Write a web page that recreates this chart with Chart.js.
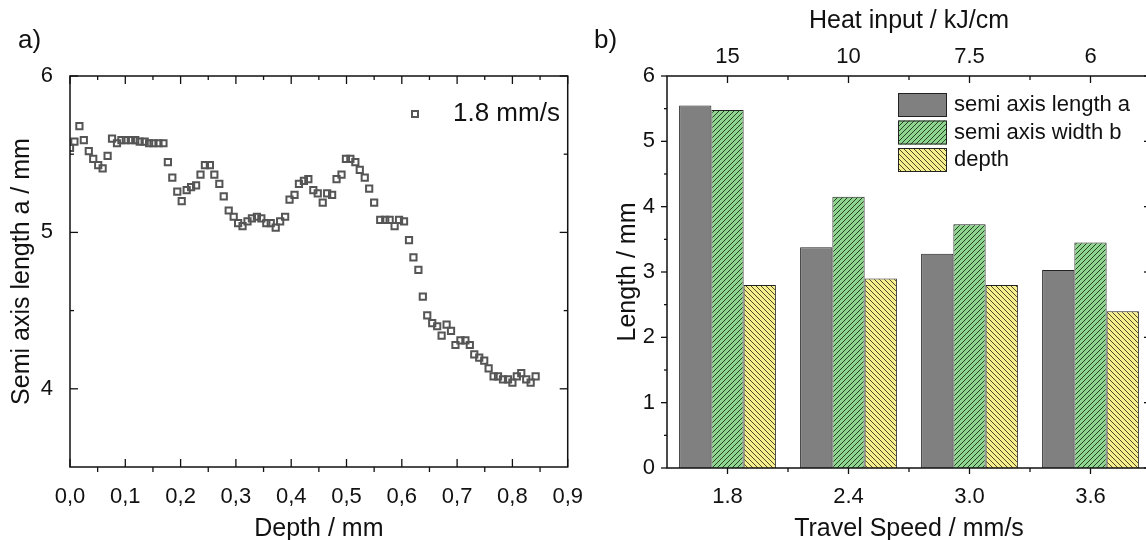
<!DOCTYPE html>
<html>
<head>
<meta charset="utf-8">
<script src="https://cdn.jsdelivr.net/npm/chart.js@4.4.0/dist/chart.umd.min.js"></script>
<style>
body { margin:0; background:#fff; overflow:hidden; width:1146px; height:540px; position:relative; font-family:"Liberation Sans", Arial, sans-serif; }
.wrap { position:absolute; top:0; height:560px; }
#wa { left:0; width:600px; }
#wb { left:590px; width:620px; }
.tag { position:absolute; font-size:26px; color:#111; top:24px; }
</style>
</head>
<body>
<div class="wrap" id="wa"><canvas id="ca" width="600" height="560"></canvas></div>
<div class="wrap" id="wb"><canvas id="cb" width="620" height="560"></canvas></div>
<div class="tag" style="left:18px">a)</div>
<div class="tag" style="left:594px">b)</div>
<script>
// a) semi axis length vs depth (1.8 mm/s)
var depth = [0.000,0.008,0.017,0.025,0.034,0.042,0.051,0.059,0.068,0.076,0.085,0.093,0.101,0.110,0.118,0.126,0.135,0.143,0.151,0.160,
  0.169,0.177,0.185,0.194,0.202,0.211,0.219,0.228,0.236,0.244,0.253,0.261,0.270,0.278,0.287,0.296,0.304,0.312,0.321,0.329,
  0.338,0.346,0.355,0.363,0.372,0.380,0.389,0.397,0.406,0.414,0.423,0.431,0.440,0.448,0.457,0.465,0.474,0.482,0.491,0.499,
  0.507,0.516,0.524,0.533,0.541,0.550,0.561,0.570,0.578,0.587,0.595,0.604,0.613,0.621,0.630,0.638,0.646,0.655,0.664,0.672,
  0.681,0.689,0.697,0.706,0.715,0.723,0.731,0.740,0.749,0.757,0.766,0.774,0.783,0.792,0.800,0.808,0.816,0.825,0.833,0.842];
var semiAxisA = [5.54,5.58,5.68,5.59,5.52,5.47,5.43,5.41,5.49,5.60,5.57,5.59,5.59,5.59,5.59,5.58,5.58,5.57,5.57,5.57,
  5.57,5.45,5.35,5.26,5.20,5.27,5.29,5.30,5.37,5.43,5.43,5.37,5.31,5.23,5.14,5.10,5.06,5.04,5.07,5.09,
  5.10,5.09,5.06,5.06,5.03,5.07,5.10,5.21,5.24,5.31,5.33,5.34,5.27,5.25,5.19,5.25,5.24,5.34,5.37,5.47,
  5.47,5.45,5.40,5.35,5.28,5.19,5.08,5.08,5.08,5.04,5.08,5.07,4.95,4.84,4.76,4.59,4.47,4.42,4.40,4.34,
  4.41,4.37,4.28,4.31,4.31,4.28,4.22,4.20,4.18,4.13,4.08,4.08,4.06,4.06,4.04,4.08,4.10,4.06,4.04,4.08];
var depthTicks = [0,0.1,0.2,0.3,0.4,0.5,0.6,0.7,0.8,0.9];
var depthMinor = [0.05,0.15,0.25,0.35,0.45,0.55,0.65,0.75,0.85];
var aTicks = [4,5,6];
var aMinor = [4.5,5.5];

// b) weld pool dimensions vs travel speed
var speeds = ['1.8','2.4','3.0','3.6'];
var heatInput = ['15','10','7.5','6'];
var lengthA = [5.55,3.38,3.28,3.03];
var widthB = [5.48,4.15,3.73,3.45];
var poolDepth = [2.80,2.90,2.80,2.40];
var lenTicks = [0,1,2,3,4,5,6];
var lenMinor = [0.5,1.5,2.5,3.5,4.5,5.5];
var catCenters = [0,1,2,3];
var catBounds = [0.5,1.5,2.5];

Chart.defaults.font.family = '"Liberation Sans", Arial, sans-serif';
Chart.defaults.color = '#111';

function hatch(bg, line, dir) {
  var c = document.createElement('canvas');
  c.width = 5; c.height = 5;
  var g = c.getContext('2d');
  g.fillStyle = bg; g.fillRect(0, 0, 5, 5);
  g.strokeStyle = line; g.lineWidth = 1;
  g.beginPath();
  if (dir > 0) {
    g.moveTo(-1, 6); g.lineTo(6, -1);
    g.moveTo(-3, 3); g.lineTo(3, -3);
    g.moveTo(2, 8); g.lineTo(8, 2);
  } else {
    g.moveTo(-1, -1); g.lineTo(6, 6);
    g.moveTo(-3, 2); g.lineTo(3, 8);
    g.moveTo(2, -3); g.lineTo(8, 3);
  }
  g.stroke();
  return g.createPattern(c, 'repeat');
}

var greenHatch = hatch('#8fd48f', '#264226', 1);
var yellowHatch = hatch('#f7ee8e', '#4d4a26', -1);

// frame round the plot area plus Origin style ticks
var frameTicks = {
  id: 'frameTicks',
  afterDatasetsDraw: function(chart, args, opts) {
    var a = chart.chartArea, ctx = chart.ctx;
    ctx.save();
    ctx.strokeStyle = '#111';
    ctx.lineWidth = 1.5;
    ctx.strokeRect(a.left, a.top, a.right - a.left, a.bottom - a.top);
    ctx.lineWidth = 1.3;
    opts.marks.forEach(function(m) {
      var sc = chart.scales[m.scale];
      m.values.forEach(function(v) {
        var p = sc.getPixelForValue(v);
        ctx.beginPath();
        if (m.edge == 'left') { ctx.moveTo(a.left, p); ctx.lineTo(a.left + m.len, p); }
        if (m.edge == 'right') { ctx.moveTo(a.right, p); ctx.lineTo(a.right - m.len, p); }
        if (m.edge == 'top') { ctx.moveTo(p, a.top); ctx.lineTo(p, a.top + m.len); }
        if (m.edge == 'bottom') { ctx.moveTo(p, a.bottom); ctx.lineTo(p, a.bottom - m.len); }
        ctx.stroke();
      });
    });
    ctx.restore();
  }
};

var legendA = {
  id: 'legendA',
  afterDraw: function(chart) {
    var a = chart.chartArea, ctx = chart.ctx;
    var x = a.left + 345, y = a.top + 38;
    ctx.save();
    ctx.strokeStyle = '#555'; ctx.lineWidth = 2;
    ctx.strokeRect(x - 3, y - 3, 6, 6);
    ctx.fillStyle = '#111';
    ctx.font = '26px "Liberation Sans", Arial, sans-serif';
    ctx.textBaseline = 'middle';
    ctx.fillText(chart.data.datasets[0].label, a.left + 383, y);
    ctx.restore();
  }
};

var legendB = {
  id: 'legendB',
  afterDraw: function(chart) {
    var a = chart.chartArea, ctx = chart.ctx;
    var x = a.left + 231, y = a.top + 17;
    ctx.save();
    ctx.font = '22px "Liberation Sans", Arial, sans-serif';
    ctx.textBaseline = 'middle';
    chart.data.datasets.forEach(function(ds, i) {
      var top = y + i * 27.5;
      ctx.fillStyle = ds.backgroundColor;
      ctx.fillRect(x, top, 49, 24);
      ctx.strokeStyle = '#222'; ctx.lineWidth = 1;
      ctx.strokeRect(x + 0.5, top + 0.5, 48, 23);
      ctx.fillStyle = '#111';
      ctx.fillText(ds.label, x + 56, top + 12);
    });
    ctx.restore();
  }
};

function fixTicks(list) {
  return function(s) { s.ticks = list.map(function(v) { return {value: v}; }); };
}

var noGrid = { display: false, drawTicks: false };

new Chart(document.getElementById('ca'), {
  type: 'scatter',
  data: {
    datasets: [{
      label: '1.8 mm/s',
      data: depth.map(function(d, i) { return {x: d, y: semiAxisA[i]}; }),
      pointStyle: 'rect',
      pointRadius: 4.4,
      pointBorderWidth: 2,
      borderColor: '#555',
      backgroundColor: 'rgba(255,255,255,0)'
    }]
  },
  options: {
    responsive: false,
    animation: false,
    devicePixelRatio: 1,
    layout: { padding: { left: 0, right: 21, top: 76, bottom: 0 } },
    plugins: {
      legend: { display: false },
      tooltip: { enabled: false },
      frameTicks: { marks: [
        { scale: 'x', edge: 'bottom', values: depthTicks, len: 8 },
        { scale: 'x', edge: 'bottom', values: depthMinor, len: -5 },
        { scale: 'x', edge: 'top', values: depthTicks, len: 8 },
        { scale: 'x', edge: 'top', values: depthMinor, len: 4 },
        { scale: 'y', edge: 'left', values: aTicks, len: 8 },
        { scale: 'y', edge: 'left', values: aMinor, len: 4 },
        { scale: 'y', edge: 'right', values: aTicks, len: 8 },
        { scale: 'y', edge: 'right', values: aMinor, len: 4 }
      ] }
    },
    scales: {
      x: {
        type: 'linear', min: 0, max: 0.9,
        grid: noGrid, border: { display: false },
        afterBuildTicks: fixTicks(depthTicks),
        afterFit: function(s) { s.height = 93; },
        ticks: { padding: 17, font: { size: 22 }, callback: function(v) { return v.toFixed(1).replace('.', ','); } },
        title: { display: true, text: 'Depth / mm', font: { size: 25 }, padding: { top: 0, bottom: 16 } }
      },
      y: {
        min: 3.5, max: 6,
        grid: noGrid, border: { display: false },
        afterBuildTicks: fixTicks(aTicks),
        afterFit: function(s) { s.width = 70; },
        ticks: { padding: 17, font: { size: 22 } },
        title: { display: true, text: 'Semi axis length a / mm', font: { size: 25 }, padding: { top: 7, bottom: 0 } }
      }
    }
  },
  plugins: [frameTicks, legendA]
});

new Chart(document.getElementById('cb'), {
  type: 'bar',
  data: {
    labels: speeds,
    datasets: [
      { label: 'semi axis length a', data: lengthA, backgroundColor: '#808080', borderColor: '#222', borderWidth: 1 },
      { label: 'semi axis width b', data: widthB, backgroundColor: greenHatch, borderColor: '#222', borderWidth: 1 },
      { label: 'depth', data: poolDepth, backgroundColor: yellowHatch, borderColor: '#222', borderWidth: 1 }
    ]
  },
  options: {
    responsive: false,
    animation: false,
    devicePixelRatio: 1,
    layout: { padding: { left: 0, right: 59, top: 0, bottom: 0 } },
    datasets: { bar: { categoryPercentage: 0.8, barPercentage: 1.0 } },
    plugins: {
      legend: { display: false },
      tooltip: { enabled: false },
      frameTicks: { marks: [
        { scale: 'x', edge: 'bottom', values: catCenters, len: -6 },
        { scale: 'x', edge: 'bottom', values: catBounds, len: -4 },
        { scale: 'x', edge: 'top', values: catCenters, len: 7 },
        { scale: 'x', edge: 'top', values: catBounds, len: 4 },
        { scale: 'y', edge: 'left', values: lenTicks, len: -6 },
        { scale: 'y', edge: 'left', values: lenMinor, len: -3 },
        { scale: 'y', edge: 'right', values: lenTicks, len: 7 },
        { scale: 'y', edge: 'right', values: lenMinor, len: 4 }
      ] }
    },
    scales: {
      x: {
        type: 'category', offset: true,
        grid: noGrid, border: { display: false },
        afterFit: function(s) { s.height = 92; },
        ticks: { padding: 16, font: { size: 22 } },
        title: { display: true, text: 'Travel Speed / mm/s', font: { size: 25 }, padding: { top: 0, bottom: 16 } }
      },
      x2: {
        type: 'category', position: 'top', offset: true, labels: heatInput,
        grid: noGrid, border: { display: false },
        afterFit: function(s) { s.height = 76; },
        ticks: { padding: 6, font: { size: 22 } },
        title: { display: true, text: 'Heat input / kJ/cm', font: { size: 25 }, padding: { top: 6, bottom: 0 } }
      },
      y: {
        min: 0, max: 6,
        grid: noGrid, border: { display: false },
        afterBuildTicks: fixTicks(lenTicks),
        afterFit: function(s) { s.width = 77; },
        ticks: { padding: 12, font: { size: 22 } },
        title: { display: true, text: 'Length / mm', font: { size: 25 }, padding: { top: 23, bottom: 0 } }
      }
    }
  },
  plugins: [frameTicks, legendB]
});
</script>
</body>
</html>
